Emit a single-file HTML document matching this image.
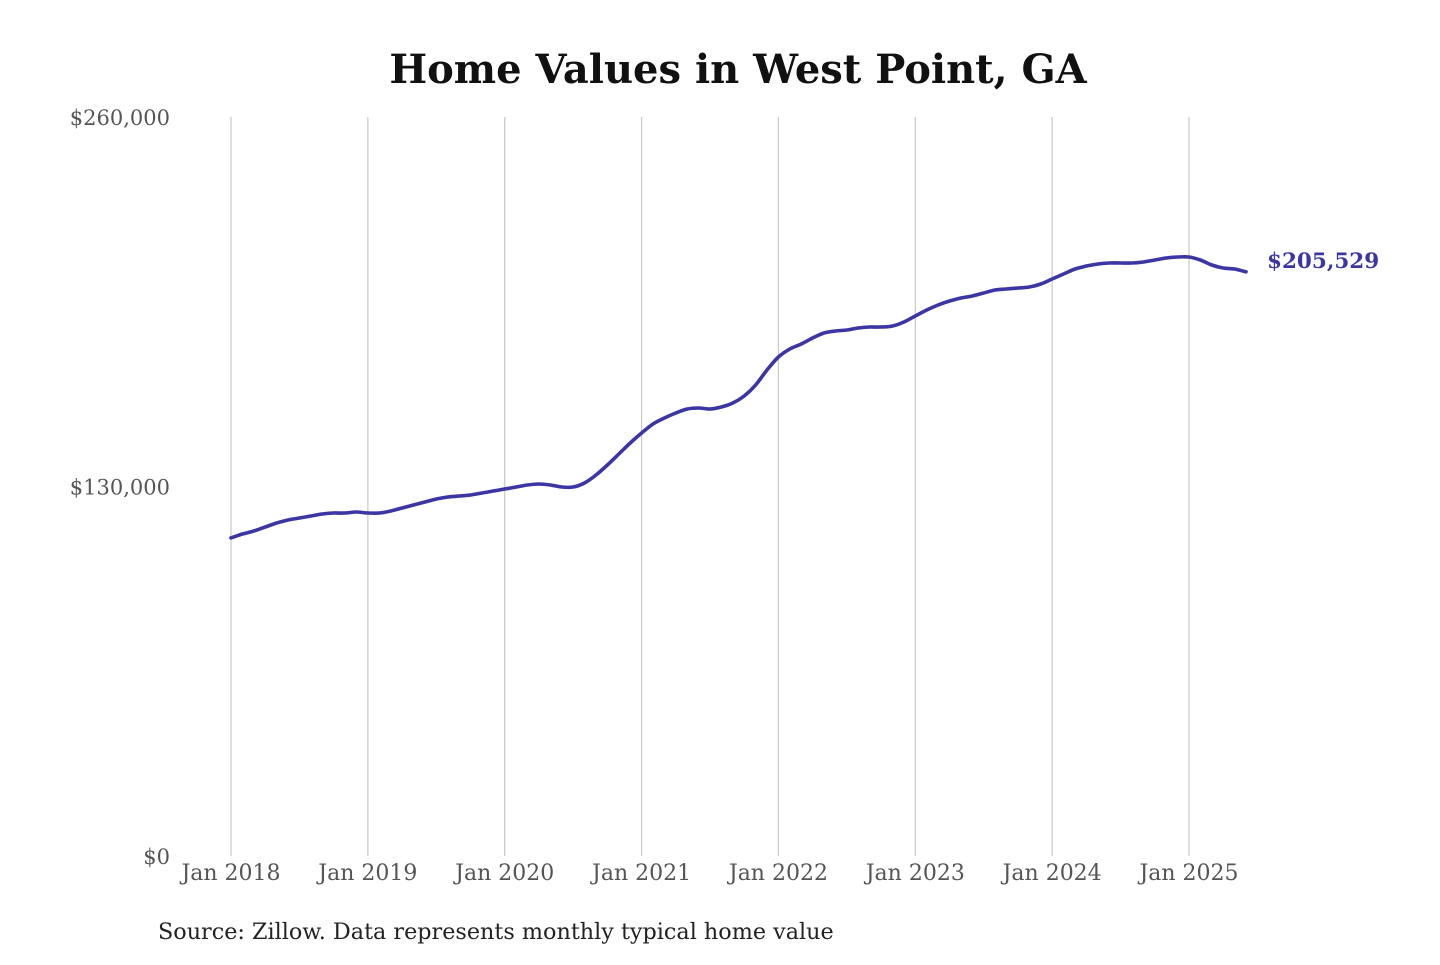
<!DOCTYPE html>
<html><head><meta charset="utf-8"><style>
body{margin:0;background:#fff;}
svg text{font-family:"DejaVu Serif","Liberation Serif",serif;}
</style></head><body>
<svg id="chart" width="1440" height="960" viewBox="0 0 1440 960">
<rect width="1440" height="960" fill="#fff"/>
<text x="738" y="83" text-anchor="middle" font-size="40" font-weight="bold" fill="#111">Home Values in West Point, GA</text>
<g id="grid"></g><g id="yaxis"></g><g id="xaxis"></g><g id="series"></g>
<text x="158" y="939" font-size="22.3" fill="#222">Source: Zillow. Data represents monthly typical home value</text>
</svg>
<script>
const yTicks=[0,130000,260000];
const yTickLabels=["$0","$130,000","$260,000"];
const xYears=[2018,2019,2020,2021,2022,2023,2024,2025];
const startYear=2018;
const values=[111900,113280,114335,115742,117149,118205,118908,119612,120316,120667,120667,121019,
120667,120667,121371,122426,123482,124537,125593,126296,126648,127000,127703,128407,
129111,129814,130518,130870,130518,129814,129814,131221,134036,137554,141424,145293,
148811,151978,154088,155847,157255,157606,157255,157958,159365,161828,165698,170975,
175548,178363,180122,182232,183991,184695,185047,185750,186102,186102,186454,187861,
189972,192083,193842,195249,196304,197008,198063,199119,199471,199822,200174,201230,
202989,204748,206507,207562,208266,208617,208617,208617,208969,209673,210376,210728,
210728,209673,207914,206858,206507,205529];
const lastLabel="$205,529";
const NS="http://www.w3.org/2000/svg";
const y=v=>856-(v/260000)*739;
const x=m=>231+m*(1189-231)/84;
function mk(tag,attrs,parent){const e=document.createElementNS(NS,tag);for(const k in attrs)e.setAttribute(k,attrs[k]);document.getElementById(parent).appendChild(e);return e;}
xYears.forEach((yr,i)=>{
  const m=(yr-startYear)*12;
  const l=mk('line',{x1:x(m),x2:x(m),y1:117,y2:856,stroke:'#c8c8c8','stroke-width':1.2},'grid');
  
  
  const t=mk('text',{x:x(m),y:880,'text-anchor':'middle','font-size':22,fill:'#555'},'xaxis');
  t.textContent='Jan '+yr;
  
  
});
yTicks.forEach((v,i)=>{
  const t=mk('text',{x:170,y:y(v)+8,'text-anchor':'end','font-size':21,fill:'#555'},'yaxis');
  t.textContent=yTickLabels[i];
  
  
});
const pts=values.map((v,i)=>[x(i),y(v)]);
let d='M'+pts[0][0].toFixed(1)+','+pts[0][1].toFixed(1);
for(let i=0;i<pts.length-1;i++){
  const p0=pts[Math.max(0,i-1)],p1=pts[i],p2=pts[i+1],p3=pts[Math.min(pts.length-1,i+2)];
  const c1=[p1[0]+(p2[0]-p0[0])/6,p1[1]+(p2[1]-p0[1])/6];
  const c2=[p2[0]-(p3[0]-p1[0])/6,p2[1]-(p3[1]-p1[1])/6];
  d+='C'+c1[0].toFixed(1)+','+c1[1].toFixed(1)+' '+c2[0].toFixed(1)+','+c2[1].toFixed(1)+' '+p2[0].toFixed(1)+','+p2[1].toFixed(1);
}
const p=mk('path',{d:d,fill:'none',stroke:'#3b36a3','stroke-width':3.6,'stroke-linejoin':'round','stroke-linecap':'round'},'series');


const n=values.length-1;
const lab=mk('text',{x:x(n)+21,y:y(values[n])-4,'font-size':21.5,'font-weight':'bold',fill:'#3b36a3'},'series');
lab.textContent=lastLabel;


</script>
</body></html>
